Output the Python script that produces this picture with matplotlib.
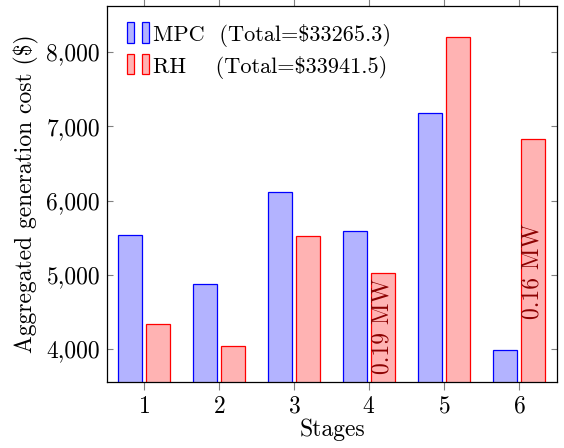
import numpy as np
import matplotlib
matplotlib.use("Agg")
import matplotlib.pyplot as plt
from matplotlib.patches import Rectangle
from matplotlib.legend_handler import HandlerBase
from matplotlib.ticker import FuncFormatter

plt.rcParams['font.family'] = 'serif'
plt.rcParams['font.serif'] = ['cmr10']
plt.rcParams['mathtext.fontset'] = 'cm'
plt.rcParams['axes.unicode_minus'] = False
plt.rcParams['axes.formatter.use_mathtext'] = True

stages = np.array([1, 2, 3, 4, 5, 6])
mpc = [5530, 4870, 6110, 5590, 7185, 3980]
rh = [4330, 4035, 5520, 5025, 8200, 6830]
mpc_total = 33265.3
rh_total = 33941.5

# shortfall notes inside the RH bars: (stage, y position, text)
notes = [(4, 4310, '0.19 MW'), (6, 5045, '0.16 MW')]

blue_fill, blue_edge = '#b3b3ff', '#0000ff'
red_fill, red_edge = '#ffb3b3', '#ff0000'
tick_gray = '#808080'
fs = 17


class TwoBars(HandlerBase):
    # pgfplots-style ybar legend image: two narrow bars
    def create_artists(self, legend, orig, xd, yd, w, h, fontsize, trans):
        p = orig.patches[0]
        bw = w * 0.32
        arts = []
        for x0 in (0, w - bw):
            r = Rectangle((x0 - xd, -yd - 0.1 * h), bw, 1.3 * h,
                          facecolor=p.get_facecolor(),
                          edgecolor=p.get_edgecolor(),
                          lw=p.get_linewidth(), transform=trans)
            arts.append(r)
        return arts


fig = plt.figure(figsize=(5.64, 4.48), dpi=100)
ax = fig.add_axes([0.1897, 0.1484, 0.7979, 0.8382])

bw = 0.316
off = 0.184
b1 = ax.bar(stages - off, mpc, bw, color=blue_fill, edgecolor=blue_edge,
            lw=0.9, label='MPC  (Total=\\$%.1f)' % mpc_total)
b2 = ax.bar(stages + off, rh, bw, color=red_fill, edgecolor=red_edge,
            lw=0.9, label='RH    (Total=\\$%.1f)' % rh_total)

for s, y, t in notes:
    ax.text(s + off, y, t, rotation=90, ha='center', va='center',
            fontsize=fs, color='#8b0000')

ax.set_xlim(0.507, 6.507)
ax.set_ylim(3561, 8622)
ax.set_xticks(stages)
ax.set_yticks([4000, 5000, 6000, 7000, 8000])
ax.yaxis.set_major_formatter(FuncFormatter(lambda v, p: '{:,}'.format(int(v))))

ax.tick_params(axis='x', direction='out', top=True, length=6, width=0.8,
               color=tick_gray, labelsize=fs, pad=4)
ax.tick_params(axis='y', direction='in', right=True, length=4, width=0.8,
               color=tick_gray, labelsize=fs, pad=5)
for sp in ax.spines.values():
    sp.set_linewidth(0.9)

ax.set_xlabel('Stages', fontsize=fs, labelpad=1)
ax.set_ylabel('Aggregated generation cost (\\$)', fontsize=fs, labelpad=5)

ax.legend(handles=[b1, b2], handler_map={b1: TwoBars(), b2: TwoBars()},
          loc='upper left', bbox_to_anchor=(0.044, 0.952), frameon=False,
          fontsize=16, handlelength=1.0, handleheight=0.7, handletextpad=0.17,
          labelspacing=0.4, borderaxespad=0, borderpad=0)

plt.savefig("out.png")
